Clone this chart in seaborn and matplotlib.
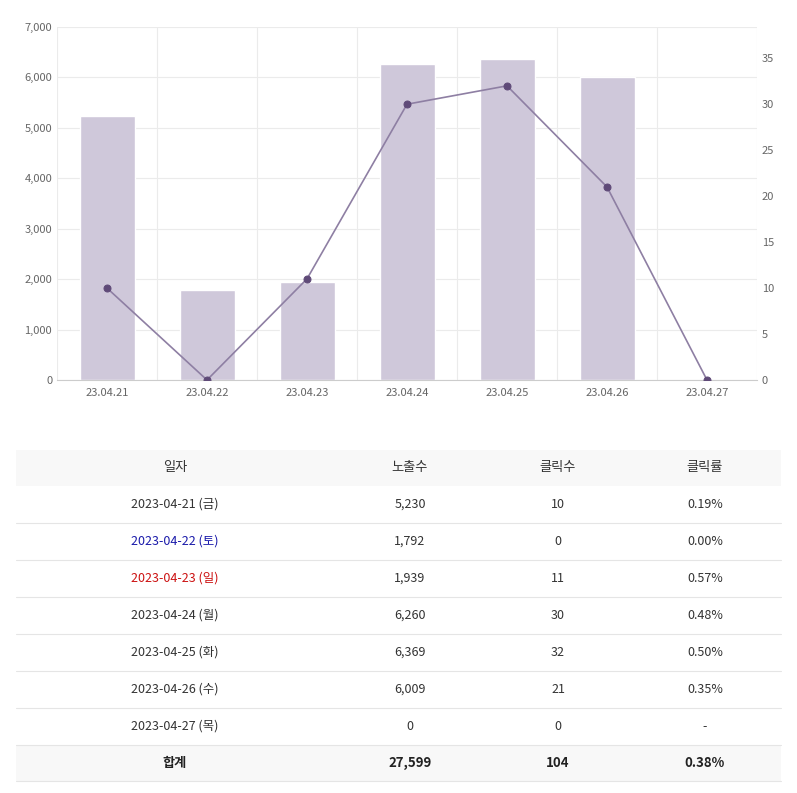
import matplotlib
matplotlib.use("Agg")
import matplotlib.pyplot as plt
import seaborn as sns
import pandas as pd
import numpy as np

dates = ["23.04.21","23.04.22","23.04.23","23.04.24","23.04.25","23.04.26","23.04.27"]
impressions = [5230,1792,1939,6260,6369,6009,0]
clicks = [10,0,11,30,32,21,0]
full_dates = ["2023-04-21 (금)","2023-04-22 (토)","2023-04-23 (일)","2023-04-24 (월)",
              "2023-04-25 (화)","2023-04-26 (수)","2023-04-27 (목)"]
ctr = ["0.19%","0.00%","0.57%","0.48%","0.50%","0.35%","-"]
date_colors = ["#333333","#1a1aaa","#cc1111","#333333","#333333","#333333","#333333"]
headers = ["일자","노출수","클릭수","클릭률"]
totals = ["합계","27,599","104","0.38%"]

sns.set_style("white")
plt.rcParams['font.family'] = ['Noto Sans CJK KR', 'DejaVu Sans']

W, H = 797, 793
fig = plt.figure(figsize=(W/100, H/100), dpi=100)
ax = fig.add_axes([57/W, (H-380)/H, 700/W, 353/H])
df = pd.DataFrame({"date": dates, "imp": impressions, "clk": clicks})
sns.barplot(data=df, x="date", y="imp", color="#cfc8da", saturation=1, width=0.55, ax=ax, zorder=2)
ax.set_ylim(0, 7000)
ax.set_xlim(-0.5, 6.5)
ax.set_yticks(range(0, 7001, 1000))
ax.set_yticklabels([f"{v:,}" for v in range(0, 7001, 1000)], fontsize=8, color="#666666")
ax.tick_params(axis='x', labelsize=8, colors="#666666", length=0, pad=6)
ax.tick_params(axis='y', length=0)
ax.set_xlabel(""); ax.set_ylabel("")
for y in range(0, 7001, 1000):
    ax.axhline(y, color="#ebebeb", lw=0.8, zorder=0)
for x in np.arange(-0.5, 7, 1):
    ax.axvline(x, color="#ebebeb", lw=0.8, zorder=0)
for s in ax.spines.values():
    s.set_visible(False)
ax.spines['bottom'].set_visible(True); ax.spines['bottom'].set_color("#cccccc")

ax2 = ax.twinx()
sns.lineplot(x=np.arange(7), y=clicks, ax=ax2, color="#8e7fa3", lw=1.2, marker="o",
             markersize=5, markerfacecolor="#5f4a78", markeredgecolor="#5f4a78", zorder=3)
ax2.set_ylim(0, 38.4)
ax2.set_yticks(range(0, 36, 5))
ax2.tick_params(axis='y', labelsize=8, colors="#666666", length=0)
for s in ax2.spines.values():
    s.set_visible(False)

# table
tx = fig.add_axes([0, 0, 1, 1]); tx.set_xlim(0, W); tx.set_ylim(H, 0); tx.axis('off')
cols = [175, 410, 558, 705]
top = 450; rh = 37
tx.add_patch(plt.Rectangle((16, top), 765, 36, color="#f8f8f8", lw=0))
for c, h in zip(cols, headers):
    tx.text(c, top+18, h, ha="center", va="center", fontsize=9.5, color="#333333")
for i in range(7):
    yc = top + 36 + rh*i + rh/2
    vals = [full_dates[i], f"{impressions[i]:,}", str(clicks[i]), ctr[i]]
    for j, (c, v) in enumerate(zip(cols, vals)):
        tx.text(c, yc, v, ha="center", va="center", fontsize=9,
                color=date_colors[i] if j == 0 else "#333333")
    tx.plot([16, 781], [top+36+rh*(i+1)]*2, color="#e5e5e5", lw=0.8)
ty = top + 36 + rh*7
tx.add_patch(plt.Rectangle((16, ty), 765, 36, color="#f8f8f8", lw=0))
for c, v in zip(cols, totals):
    tx.text(c, ty+18, v, ha="center", va="center", fontsize=9.5, fontweight="bold", color="#222222")
tx.plot([16, 781], [ty+36]*2, color="#e5e5e5", lw=0.8)

fig.savefig("out.png", dpi=100)
